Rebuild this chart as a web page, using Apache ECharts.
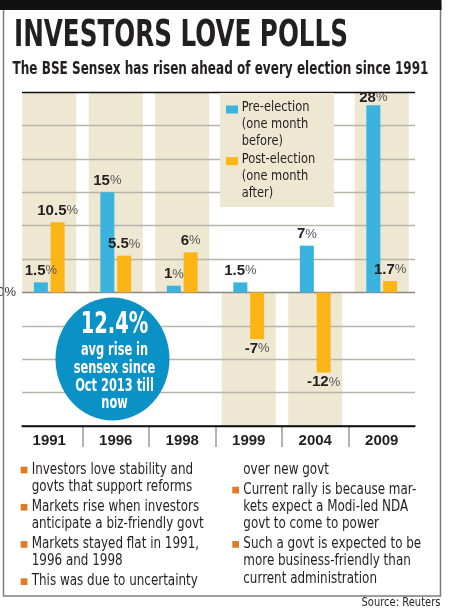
<!DOCTYPE html>
<html><head><meta charset="utf-8">
<script src="https://cdn.jsdelivr.net/npm/echarts@6/dist/echarts.min.js"></script>
<style>html,body{margin:0;padding:0;background:#fff}#c{width:450px;height:613px}</style>
</head><body><div id="c"></div>
<script>
// ---- data ----
const categories = ['1991', '1996', '1998', '1999', '2004', '2009'];
const preElection = [1.5, 15, 1, 1.5, 7, 28];
const postElection = [10.5, 5.5, 6, -7, -12, 1.7];
const yMin = -20, yMax = 30, yStep = 5;
const seriesNames = ['Pre-election', 'Post-election'];
const legendNotes = [['(one month', 'before)'], ['(one month', 'after)']];
const titleText = 'INVESTORS LOVE POLLS';
const subtitleText = 'The BSE Sensex has risen ahead of every election since 1991';
const calloutValue = '12.4%';
const calloutLines = ['avg rise in', 'sensex since', 'Oct 2013 till', 'now'];
const bulletsLeft = [
  ['Investors love stability and', 'govts that support reforms'],
  ['Markets rise when investors', 'anticipate a biz-friendly govt'],
  ['Markets stayed flat in 1991,', '1996 and 1998'],
  ['This was due to uncertainty']
];
const bulletsRight = [
  ['over new govt'],
  ['Current rally is because mar-', 'kets expect a Modi-led NDA', 'govt to come to power'],
  ['Such a govt is expected to be', 'more business-friendly than', 'current administration']
];
const sourceText = 'Source: Reuters';

// ---- style ----
const BLUE = '#3ab3de', ORANGE = '#fbb516', BAND = '#eee8d3', GRID = '#b8b4aa';
const CIRCLE = '#0a91c5', BULLET = '#e07a26', INK = '#231f20';
const NARROW = "'Liberation Sans Narrow','DejaVu Sans Condensed','Liberation Sans',sans-serif";
const LAB = "'Liberation Sans',Arial,sans-serif";
const ctx = document.createElement('canvas').getContext('2d');
function measure(t, font) { ctx.font = font; return ctx.measureText(t).width; }
function fontStr(size, weight) { return weight + ' ' + size + 'px ' + NARROW; }
function scaleFor(t, size, weight, target) { return target / measure(t, fontStr(size, weight)); }
function txt(t, x, y, size, weight, fill, sx, align) {
  return { type: 'text', x: x, y: y, scaleX: sx, z: 20,
    style: { text: t, font: fontStr(size, weight), fill: fill, align: align || 'left', verticalAlign: 'middle' } };
}

const graphics = [];
// frame
graphics.push({ type: 'rect', z: 30, shape: { x: 3.5, y: 6, width: 437, height: 590 }, style: { fill: 'none', stroke: '#7d7d7d', lineWidth: 1.5 } });
graphics.push({ type: 'rect', z: 31, shape: { x: 0, y: 0, width: 441.5, height: 10 }, style: { fill: '#111' } });
// title / subtitle
graphics.push(txt(titleText, 14, 36.5, 37, 'bold', INK, scaleFor(titleText, 37, 'bold', 334)));
graphics.push(txt(subtitleText, 12.5, 69.5, 17, 'bold', INK, scaleFor(subtitleText, 17, 'bold', 416)));
// legend box
graphics.push({ type: 'rect', z: 5, shape: { x: 220, y: 93, width: 114, height: 114 }, style: { fill: BAND } });
const legSx = scaleFor('Pre-election', 14.5, 'normal', 67.7);
[[BLUE, 109.5], [ORANGE, 161.2]].forEach(function (m, i) {
  graphics.push({ type: 'rect', z: 20, shape: { x: 226, y: m[1] - 4, width: 12, height: 8 }, style: { fill: m[0] } });
  graphics.push(txt(seriesNames[i], 241.7, m[1] - 2, 14.5, 'normal', INK, legSx));
  legendNotes[i].forEach(function (l, j) { graphics.push(txt(l, 241.7, m[1] - 2 + 16.8 * (j + 1), 14.5, 'normal', INK, legSx)); });
});
// callout circle
graphics.push({ type: 'circle', z: 15, x: 112.5, y: 359, scaleY: 1.08, shape: { cx: 0, cy: 0, r: 57 }, style: { fill: CIRCLE } });
graphics.push(txt(calloutValue, 114.5, 325, 30, 'bold', '#fff', scaleFor(calloutValue, 30, 'bold', 67.7), 'center'));
const cSx = scaleFor('sensex since', 17, 'bold', 81.7);
calloutLines.forEach(function (l, i) { graphics.push(txt(l, 114.5, 351 + 17.6 * i, 17, 'bold', '#fff', cSx, 'center')); });
// bullets
const bSx = scaleFor('anticipate a biz-friendly govt', 15, 'normal', 172);
function bulletBlock(list, sqX, txX, y0, firstIsCont) {
  let y = y0;
  list.forEach(function (lines, k) {
    if (!(firstIsCont && k === 0)) graphics.push({ type: 'rect', z: 20, shape: { x: sqX, y: y - 3.3, width: 6.7, height: 6.7 }, style: { fill: BULLET } });
    lines.forEach(function (l) { graphics.push(txt(l, txX, y, 15, 'normal', INK, bSx)); y += 17.2; });
    y += 2.8;
  });
}
bulletBlock(bulletsLeft, 20.7, 31.7, 470, false);
bulletBlock(bulletsRight, 232.3, 243.3, 470, true);
graphics.push(txt(sourceText, 440.5, 603, 13, 'normal', INK, scaleFor(sourceText, 13, 'normal', 79), 'right'));

// ---- series data ----
function barData(vals) {
  return vals.map(function (v) {
    return { value: v, label: { position: v < 0 ? 'bottom' : 'top', distance: v < 0 ? 2 : (v > yMax - 3 ? 0 : 4) } };
  });
}
const bandData = categories.map(function (c, i) {
  const lo = Math.min(preElection[i], postElection[i]);
  return lo < 0 ? [i, 0, yMin] : [i, yMax, 0];
});
const labelCfg = {
  show: true,
  formatter: function (p) { return '{v|' + p.value + '}{p|%}'; },
  rich: {
    v: { fontFamily: LAB, fontWeight: 'bold', fontSize: 15, color: INK },
    p: { fontFamily: LAB, fontWeight: 'normal', fontSize: 13, color: '#555' }
  }
};
const splitColors = [];
for (let v = yMin; v <= yMax; v += yStep) splitColors.push(v === 0 ? '#8a8780' : (v === yMax || v === yMin ? '#111' : GRID));

const chart = echarts.init(document.getElementById('c'), null, { renderer: 'canvas' });
chart.setOption({
  backgroundColor: '#fff',
  animation: false,
  grid: [
    { left: 22, right: 35, top: 92, bottom: 187, containLabel: false, outerBoundsMode: 'none' },
    { left: 16, right: 35, top: 92, bottom: 187, containLabel: false, outerBoundsMode: 'none' },
    { left: 16, right: 35, top: 426, bottom: 166, containLabel: false, outerBoundsMode: 'none' }
  ],
  xAxis: [
    { gridIndex: 0, type: 'value', min: 0, max: 1, position: 'bottom', z: 3,
      axisLine: { show: true, onZero: false, lineStyle: { color: '#111', width: 1.5 } },
      axisTick: { show: false }, axisLabel: { show: false }, splitLine: { show: false } },
    { gridIndex: 1, type: 'category', data: categories, position: 'bottom',
      axisLine: { show: false, onZero: false }, axisTick: { show: false },
      axisLabel: { margin: 7, fontFamily: LAB, fontWeight: 'bold', fontSize: 15, color: INK },
      splitLine: { show: false } },
    { gridIndex: 2, type: 'category', data: categories, position: 'bottom',
      axisLine: { show: false }, axisTick: { show: false }, axisLabel: { show: false },
      splitLine: { show: true, showMinLine: false, showMaxLine: false, lineStyle: { color: '#9a9a9a', width: 1.5 } } }
  ],
  yAxis: [
    { gridIndex: 0, type: 'value', min: yMin, max: yMax, interval: yStep, z: 1,
      axisLine: { show: false }, axisTick: { show: false },
      axisLabel: { margin: 6, fontFamily: LAB, fontSize: 13, color: '#333', formatter: function (v) { return v === 0 ? '0%' : ''; } },
      splitLine: { show: true, showMinLine: true, showMaxLine: true, lineStyle: { color: splitColors, width: 1.3 } } },
    { gridIndex: 1, type: 'value', min: yMin, max: yMax, interval: yStep, show: false },
    { gridIndex: 2, type: 'value', min: 0, max: 1, show: false }
  ],
  series: [
    { type: 'custom', name: 'bands', xAxisIndex: 1, yAxisIndex: 1, z: 0, silent: true,
      encode: { x: 0, y: [1, 2] },
      renderItem: function (params, api) {
        const a = api.coord([api.value(0), api.value(1)]);
        const b = api.coord([api.value(0), api.value(2)]);
        return { type: 'rect', shape: { x: a[0] - 27, y: a[1], width: 54, height: b[1] - a[1] }, style: { fill: BAND } };
      },
      data: bandData },
    { type: 'bar', name: seriesNames[0], xAxisIndex: 1, yAxisIndex: 1, z: 4, barWidth: 14, barGap: '20%',
      itemStyle: { color: BLUE }, label: labelCfg, data: barData(preElection) },
    { type: 'bar', name: seriesNames[1], xAxisIndex: 1, yAxisIndex: 1, z: 4, barWidth: 14, barGap: '20%',
      itemStyle: { color: ORANGE }, label: labelCfg, data: barData(postElection) }
  ],
  graphic: { elements: graphics }
});
</script></body></html>
